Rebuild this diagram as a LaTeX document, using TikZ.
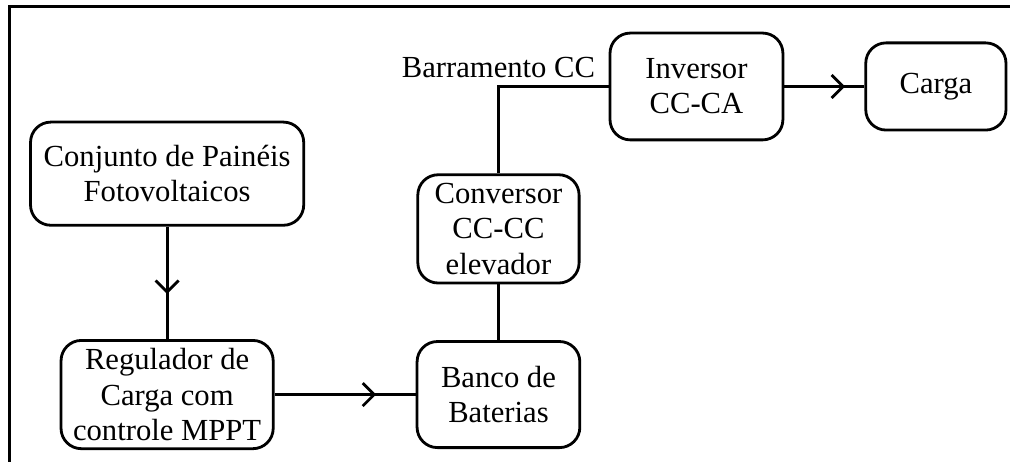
\documentclass[tikz,border=0pt]{standalone}
\usepackage{fontspec}
\setmainfont{Liberation Serif}
\usetikzlibrary{arrows.meta,positioning,decorations.markings}

\begin{document}
\begin{tikzpicture}[line width=1.1pt,
        font=\fontsize{12pt}{13.8pt}\selectfont,
        box/.style={rounded corners=0.28cm,draw=black,
                    inner sep=1pt,align=center},
        flow/.style={postaction={decorate},
                     decoration={markings,mark=at position #1 with
                       {\arrow{Straight Barb[length=4.5pt,width=9pt]}}}}]

        % moldura
        \useasboundingbox (0,0) rectangle (13.9,-6.358);
        \coordinate (frameB) at (0.131,-6.5);
        \coordinate (frameTL) at (0.131,-0.089);
        \coordinate (frameTR) at (14.1,-0.089);
        \draw[line width=1.3pt] (frameB) -- (frameTL) -- (frameTR);

        % blocos
        \node[box,minimum width=3.76cm,minimum height=1.42cm] (pv) at (2.30,-2.39)
              {Conjunto de Painéis\\Fotovoltaicos};
        \node[box,minimum width=2.92cm,minimum height=1.49cm] (reg) at (2.30,-5.43)
              {Regulador de\\Carga com\\controle MPPT};
        \node[box,minimum width=2.24cm,minimum height=1.46cm] (bat) at (6.86,-5.43)
              {Banco de\\Baterias};
        \node[box,minimum width=2.22cm,minimum height=1.49cm] (conv) at (6.86,-3.15)
              {Conversor\\CC-CC\\elevador};
        \node[box,minimum width=2.38cm,minimum height=1.47cm] (inv) at (9.585,-1.19)
              {Inversor\\CC-CA};
        \node[box,minimum width=1.93cm,minimum height=1.20cm] (load) at (12.88,-1.19)
              {Carga};

        % barramento
        \coordinate (bus) at (conv.north |- inv.west);
        \node[above,inner sep=3pt] (busl) at (bus) {Barramento CC};

        \foreach \a/\b/\p in {pv/reg/0.60,reg/bat/0.72,inv/load/0.76}{
          \draw[flow=\p] (\a) -- (\b);
        }
        \draw (bat) -- (conv);
        \draw (conv) -- (bus) -- (inv);
      \end{tikzpicture}
\end{document}
